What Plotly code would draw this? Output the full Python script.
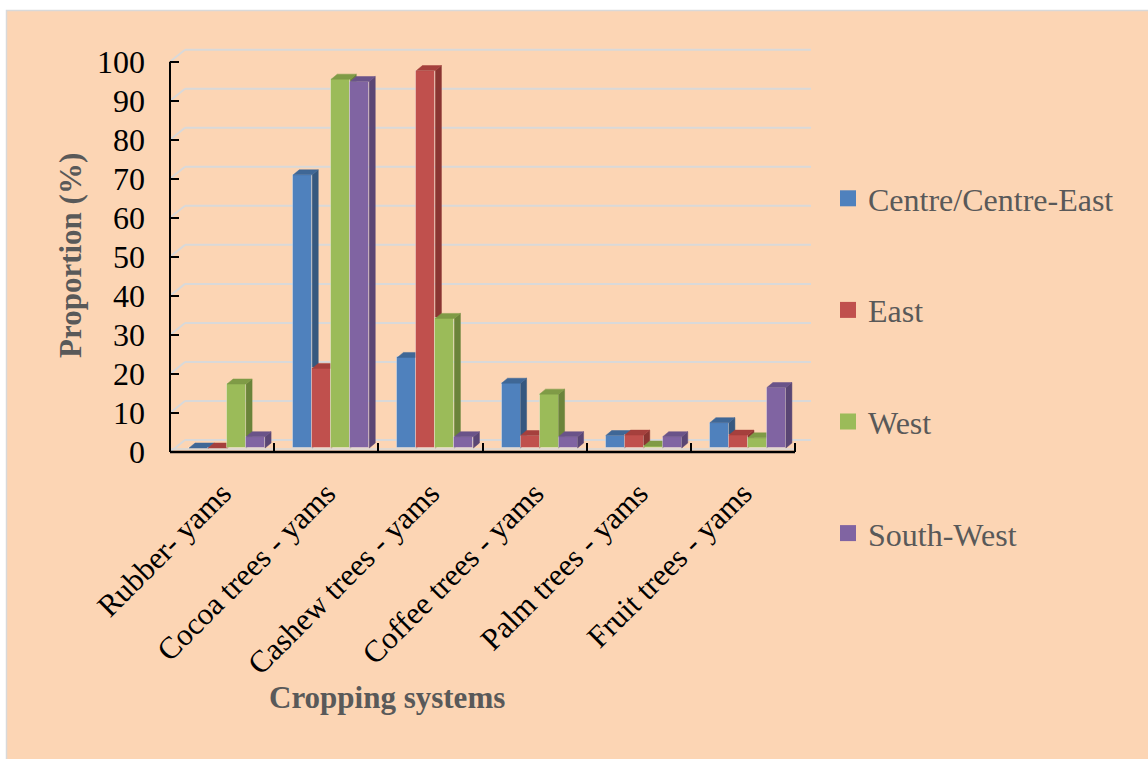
import plotly.graph_objects as go

# ---- data -------------------------------------------------------------
categories = ["Rubber- yams", "Cocoa trees - yams", "Cashew trees - yams",
              "Coffee trees - yams", "Palm trees - yams", "Fruit trees - yams"]
regions = ["Centre/Centre-East", "East", "West", "South-West"]
centre_east = [0, 70, 23.2, 16.6, 3.2, 6.5]
east = [0, 20.4, 96.7, 3.2, 3.3, 3.3]
west = [16.4, 94.5, 33.2, 13.8, 0.5, 2.6]
south_west = [2.9, 93.9, 2.9, 2.9, 2.9, 15.5]
y_ticks = list(range(0, 101, 10))

series = [centre_east, east, west, south_west]

# ---- styling ----------------------------------------------------------
front_colors = ["#4F81BD", "#C0504D", "#9BBB59", "#8064A2"]
side_colors = ["#36587F", "#8A3532", "#6B843A", "#5A4674"]
top_colors = ["#3F6796", "#A5403D", "#7F9B46", "#6A5389"]
BG = "#FCD5B4"
GRID = "#D9D9D9"
SERIF = "Liberation Serif, Times New Roman, serif"
GREY_TXT = "#595959"

# ---- page geometry (pixels) -----------------------------------------
W, H = 1148, 759
AX_L, AX_R = 170, 795          # front x-axis extent
WALL_R = 811                   # right end of the back wall
Y0_PX, Y100_PX = 452, 61.7     # front axis: value 0 and 100
PXX = (AX_R - AX_L) / len(categories)
PXY = (Y0_PX - Y100_PX) / 100.0

x_min = -0.5
x_max = len(categories) - 0.5 + (WALL_R - AX_R) / PXX
y_max = (Y0_PX - 45) / PXY
m_l, m_r = AX_L, W - WALL_R
m_b = H - Y0_PX
m_t = Y0_PX - y_max * PXY
PW, PH = W - m_l - m_r, H - m_t - m_b


def px_x(px):
    return (px - m_l) / PW


def px_y(py):
    return (H - py - m_b) / PH


# 3-D illusion offsets, converted to data units
WALL_DX, WALL_DY = 15 / PXX, 12 / PXY      # back wall depth
BAR_SHIFT_X, BAR_BASE = 5 / PXX, 4 / PXY   # bars sit a little behind the front edge
BAR_W = 19 / PXX
DEPTH_DX, DEPTH_DY = 6 / PXX, 5 / PXY      # bar thickness

fig = go.Figure()

for k, (name, vals) in enumerate(zip(regions, series)):
    xa = "x" if k == 0 else f"x{k + 1}"
    ya = "y" if k == 0 else f"y{k + 1}"
    xs = [j + BAR_SHIFT_X + (k - 1.5) * BAR_W for j in range(len(categories))]

    # front faces
    fig.add_trace(go.Bar(
        x=xs, y=vals, base=BAR_BASE, width=BAR_W, xaxis=xa, yaxis=ya,
        marker=dict(color=front_colors[k],
                    line=dict(color="rgba(255,255,255,0.35)", width=1)),
        showlegend=False, hoverinfo="skip"))

    # side and top faces
    sx, sy, tx, ty = [], [], [], []
    for xc, v in zip(xs, vals):
        xl, xr = xc - BAR_W / 2, xc + BAR_W / 2
        top = BAR_BASE + v
        sx += [xr, xr + DEPTH_DX, xr + DEPTH_DX, xr, xr, None]
        sy += [BAR_BASE, BAR_BASE + DEPTH_DY, top + DEPTH_DY, top, BAR_BASE, None]
        tx += [xl, xl + DEPTH_DX, xr + DEPTH_DX, xr, xl, None]
        ty += [top, top + DEPTH_DY, top + DEPTH_DY, top, top, None]
    fig.add_trace(go.Scatter(
        x=sx, y=sy, mode="lines", fill="toself", fillcolor=side_colors[k],
        line=dict(color=side_colors[k], width=0.5), xaxis=xa, yaxis=ya,
        showlegend=False, hoverinfo="skip"))
    fig.add_trace(go.Scatter(
        x=tx, y=ty, mode="lines", fill="toself", fillcolor=top_colors[k],
        line=dict(color=top_colors[k], width=0.5), xaxis=xa, yaxis=ya,
        showlegend=False, hoverinfo="skip"))

    # legend entry
    fig.add_trace(go.Scatter(
        x=[None], y=[None], mode="markers", name=name,
        marker=dict(symbol="square", size=16, color=front_colors[k]),
        legendgroup=name, showlegend=True))

shapes = [
    # background panel
    dict(type="rect", xref="paper", yref="paper", layer="below",
         x0=px_x(6.5), x1=px_x(W + 5), y0=px_y(H + 5), y1=px_y(10.5),
         fillcolor=BG, line=dict(color=GRID, width=1.5)),
]
# back-wall gridlines with their perspective connectors
for v in y_ticks:
    shapes.append(dict(type="line", xref="x", yref="y", layer="below",
                       x0=x_min + WALL_DX, x1=x_max, y0=v + WALL_DY, y1=v + WALL_DY,
                       line=dict(color=GRID, width=2)))
    shapes.append(dict(type="line", xref="x", yref="y", layer="below",
                       x0=x_min, x1=x_min + WALL_DX, y0=v, y1=v + WALL_DY,
                       line=dict(color=GRID, width=2)))
# floor front edge
shapes.append(dict(type="line", xref="x", yref="y", layer="below",
                   x0=x_min, x1=len(categories) - 0.5, y0=0.8, y1=0.8,
                   line=dict(color=GRID, width=1.5)))
# front axis lines
shapes.append(dict(type="line", xref="paper", yref="y", x0=0, x1=0,
                   y0=0, y1=100, line=dict(color="black", width=2)))
shapes.append(dict(type="line", xref="x", yref="paper",
                   x0=x_min, x1=len(categories) - 0.5, y0=0, y1=0,
                   line=dict(color="black", width=2.5)))

annotations = [
    dict(text="<b>Cropping systems</b>", xref="paper", yref="paper",
         x=px_x(387), y=px_y(697), xanchor="center", yanchor="middle",
         showarrow=False, font=dict(family=SERIF, size=31, color=GREY_TXT)),
    dict(text="<b>Proportion (%)</b>", xref="paper", yref="paper",
         x=px_x(70), y=px_y(256), xanchor="center", yanchor="middle",
         textangle=-90, showarrow=False,
         font=dict(family=SERIF, size=31, color=GREY_TXT)),
]

hidden = dict(visible=False, fixedrange=True)
fig.update_layout(
    width=W, height=H,
    margin=dict(l=m_l, r=m_r, t=m_t, b=m_b, pad=0),
    paper_bgcolor="white", plot_bgcolor="rgba(0,0,0,0)",
    barmode="overlay", bargap=0,
    shapes=shapes, annotations=annotations,
    font=dict(family=SERIF, size=30, color="black"),
    xaxis=dict(range=[x_min, x_max], tickmode="array",
               tickvals=list(range(len(categories))), ticktext=categories,
               tickangle=-45, ticks="", showgrid=False, zeroline=False,
               showline=False, fixedrange=True, ticklabelstandoff=16,
               tickfont=dict(family=SERIF, size=31, color="black")),
    yaxis=dict(range=[0, y_max], tickmode="array", tickvals=y_ticks,
               ticks="inside", ticklen=9, tickwidth=2, tickcolor="black",
               showgrid=False, zeroline=False, showline=False, fixedrange=True,
               ticklabelstandoff=24,
               tickfont=dict(family=SERIF, size=32, color="black")),
    xaxis2=dict(overlaying="x", anchor="y2", range=[x_min, x_max],
                tickmode="array",
                tickvals=[j - 0.5 for j in range(len(categories) + 1)],
                ticks="inside", ticklen=9, tickwidth=2, tickcolor="black",
                showticklabels=False, showgrid=False, zeroline=False,
                showline=False, fixedrange=True),
    yaxis2=dict(overlaying="y", range=[0, y_max], **hidden),
    xaxis3=dict(overlaying="x", range=[x_min, x_max], **hidden),
    yaxis3=dict(overlaying="y", range=[0, y_max], **hidden),
    xaxis4=dict(overlaying="x", range=[x_min, x_max], **hidden),
    yaxis4=dict(overlaying="y", range=[0, y_max], **hidden),
    legend=dict(xref="container", yref="container", x=828 / W, y=1 - 171 / H,
                xanchor="left", yanchor="top", bgcolor="rgba(0,0,0,0)",
                tracegroupgap=67, maxheight=700,
                font=dict(family=SERIF, size=32, color=GREY_TXT)),
)

fig.write_html("out.html")
